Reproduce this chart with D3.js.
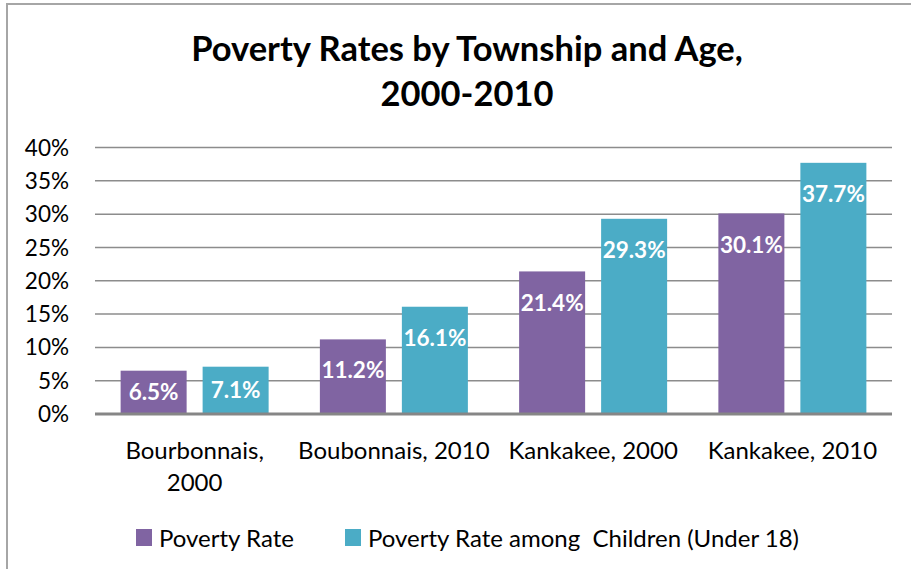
<!DOCTYPE html>
<html lang="en">
<head>
    <meta charset="UTF-8">
    <title>Poverty Rates by Township and Age, 2000-2010</title>
    <style>
        body, html {
            margin: 0;
            padding: 0;
            width: 100%;
            height: 100%;
            overflow: hidden;
            background-color: #ffffff;
            font-family: Lato, 'Open Sans', sans-serif;
        }

        .tick-label {
            font-size: 22.5px;
            fill: #000;
            text-anchor: end;
        }

        .cat-label {
            font-size: 24px;
            fill: #000;
            text-anchor: middle;
        }

        .bar-label {
            font-size: 22.5px;
            font-weight: bold;
            fill: #ffffff;
            text-anchor: middle;
        }

        .legend-text {
            font-size: 24px;
            fill: #000;
            white-space: pre;
        }
    </style>
</head>
<body>
    <div id="chart"></div>

    <script src="https://d3js.org/d3.v7.min.js"></script>
    <script>
        // Data
        const categories = ["Bourbonnais, 2000", "Boubonnais, 2010", "Kankakee, 2000", "Kankakee, 2010"];
        const seriesNames = ["Poverty Rate", "Poverty Rate among  Children (Under 18)"];
        const povertyRate = [6.5, 11.2, 21.4, 30.1];
        const childRate = [7.1, 16.1, 29.3, 37.7];
        const yTicks = [0, 5, 10, 15, 20, 25, 30, 35, 40];
        const colors = ["#8064A2", "#4BACC6"];

        const width = 911;
        const height = 569;

        const svg = d3.select("#chart")
            .append("svg")
            .attr("width", width)
            .attr("height", height);

        // Outer frame (only top and left edges are visible in the picture)
        svg.append("line")
            .attr("x1", 6).attr("x2", width)
            .attr("y1", 4).attr("y2", 4)
            .attr("stroke", "#a6a6a6").attr("stroke-width", 2);
        svg.append("line")
            .attr("x1", 7).attr("x2", 7)
            .attr("y1", 4).attr("y2", height)
            .attr("stroke", "#a6a6a6").attr("stroke-width", 2);

        // Title
        const title = svg.append("text")
            .attr("text-anchor", "middle")
            .style("font-size", "34.5px")
            .style("font-weight", "bold");
        title.append("tspan").attr("x", 467).attr("y", 61).text("Poverty Rates by Township and Age,");
        title.append("tspan").attr("x", 467).attr("y", 106).text("2000-2010");

        // Scales
        const plotLeft = 95, plotRight = 892, plotTop = 147.5, plotBottom = 414;

        const x = d3.scaleBand()
            .domain(categories)
            .range([plotLeft, plotRight]);

        const xSub = d3.scaleBand()
            .domain([0, 1])
            .range([0, x.bandwidth()])
            .paddingInner(0.195)
            .paddingOuter(0.3125);

        const y = d3.scaleLinear()
            .domain([0, 40])
            .range([plotBottom, plotTop]);

        // Gridlines
        svg.append("g")
            .selectAll("line")
            .data(yTicks.filter(d => d > 0))
            .join("line")
            .attr("x1", plotLeft).attr("x2", plotRight)
            .attr("y1", d => y(d)).attr("y2", d => y(d))
            .attr("stroke", "#8c8c8c")
            .attr("stroke-width", 1.5);

        // Y tick labels
        svg.append("g")
            .selectAll("text")
            .data(yTicks)
            .join("text")
            .attr("class", "tick-label")
            .attr("x", 69)
            .attr("y", d => y(d))
            .attr("dy", "0.36em")
            .text(d => d + "%");

        // Bars
        const rows = categories.map((c, i) => ({
            cat: c,
            vals: [povertyRate[i], childRate[i]]
        }));

        const groups = svg.append("g")
            .selectAll("g")
            .data(rows)
            .join("g")
            .attr("transform", d => `translate(${x(d.cat)},0)`);

        const bars = groups.selectAll("g")
            .data(d => d.vals.map((v, s) => ({v, s})))
            .join("g");

        bars.append("rect")
            .attr("x", d => xSub(d.s))
            .attr("width", xSub.bandwidth())
            .attr("y", d => y(d.v))
            .attr("height", d => y(0) - y(d.v))
            .attr("fill", d => colors[d.s]);

        bars.append("text")
            .attr("class", "bar-label")
            .attr("x", d => xSub(d.s) + xSub.bandwidth() / 2)
            .attr("y", d => {
                const top = y(d.v);
                const h = y(0) - top;
                return Math.min(top + 31, top + h / 2);
            })
            .attr("dy", "0.36em")
            .text(d => d.v.toFixed(1) + "%");

        // Zero axis line
        svg.append("line")
            .attr("x1", plotLeft).attr("x2", plotRight)
            .attr("y1", y(0)).attr("y2", y(0))
            .attr("stroke", "#868686")
            .attr("stroke-width", 3);

        // Category labels, wrapped to the band width
        const catText = svg.append("g")
            .selectAll("text")
            .data(categories)
            .join("text")
            .attr("class", "cat-label")
            .attr("x", d => x(d) + x.bandwidth() / 2)
            .attr("y", 459);

        catText.each(function(d) {
            const t = d3.select(this);
            const words = d.split(" ");
            let line = [];
            let tspan = t.append("tspan").attr("x", t.attr("x")).attr("dy", 0);
            words.forEach(w => {
                line.push(w);
                tspan.text(line.join(" "));
                if (tspan.node().getComputedTextLength() > x.bandwidth() - 4 && line.length > 1) {
                    line.pop();
                    tspan.text(line.join(" "));
                    line = [w];
                    tspan = t.append("tspan").attr("x", t.attr("x")).attr("dy", 32).text(w);
                }
            });
        });

        // Legend
        const legendX = [136, 345];
        const legend = svg.append("g")
            .selectAll("g")
            .data(seriesNames)
            .join("g")
            .attr("transform", (d, i) => `translate(${legendX[i]},529)`);

        legend.append("rect")
            .attr("width", 16)
            .attr("height", 17)
            .attr("fill", (d, i) => colors[i]);

        legend.append("text")
            .attr("class", "legend-text")
            .attr("x", 23)
            .attr("y", 18)
            .text(d => d);
    </script>
</body>
</html>
